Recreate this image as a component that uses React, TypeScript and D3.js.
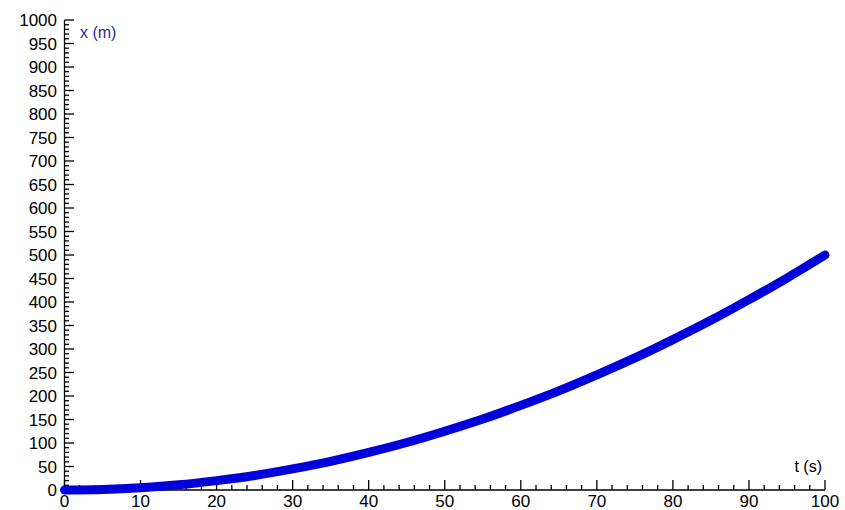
import React from "react";
import * as d3 from "d3";

const times = [0, 5, 10, 15, 20, 25, 30, 35, 40, 45, 50, 55, 60, 65, 70, 75, 80, 85, 90, 95, 100];
const positions = [0, 1.3, 5, 11, 20, 31, 45, 61, 80, 101, 125, 151, 180, 211, 245, 281, 320, 361, 405, 451, 500];
const xTicks = [0, 10, 20, 30, 40, 50, 60, 70, 80, 90, 100];
const yTicks = d3.range(0, 1001, 50);

export default function App() {
  const W = 845, H = 510;
  const x = d3.scaleLinear().domain([0, 100]).range([64.5, 825]);
  const y = d3.scaleLinear().domain([0, 1000]).range([490, 20]);
  const line = d3
    .line<number>()
    .x((_, i) => x(times[i]))
    .y((d) => y(d))
    .curve(d3.curveCatmullRom);
  const xMinor = d3.range(0, 101, 2);
  const yMinor = d3.range(0, 1001, 10);
  const font = "'Liberation Sans', Arial, sans-serif";
  return (
    <svg width={W} height={H} style={{ position: "absolute", left: 0, top: 0, background: "#fff" }}>
      <g stroke="#000" strokeWidth={1.3}>
        <line x1={x(0)} x2={x(100)} y1={490} y2={490} />
        <line x1={64.5} x2={64.5} y1={y(1000)} y2={490} />
        {xMinor.map((t) => (
          <line key={"xt" + t} x1={x(t)} x2={x(t)} y1={490} y2={t % 10 === 0 ? 480 : 485} />
        ))}
        {yMinor.map((v) => (
          <line key={"yt" + v} x1={64.5} x2={v % 50 === 0 ? 74 : 69} y1={y(v)} y2={y(v)} />
        ))}
      </g>
      <g fontFamily={font} fontSize={17} fill="#000">
        {xTicks.map((t) => (
          <text key={"xl" + t} x={x(t)} y={507} textAnchor="middle">
            {t}
          </text>
        ))}
        {yTicks.map((v) => (
          <text key={"yl" + v} x={57} y={y(v) + 6} textAnchor="end">
            {v}
          </text>
        ))}
        <text x={822} y={472} textAnchor="end" fontSize={16}>
          t (s)
        </text>
      </g>
      <text x={80} y={38} fontFamily={font} fontSize={16} fill="#2a2aa8">
        x (m)
      </text>
      <path d={line(positions) || ""} fill="none" stroke="#0000dd" strokeWidth={9} strokeLinecap="round" />
    </svg>
  );
}
